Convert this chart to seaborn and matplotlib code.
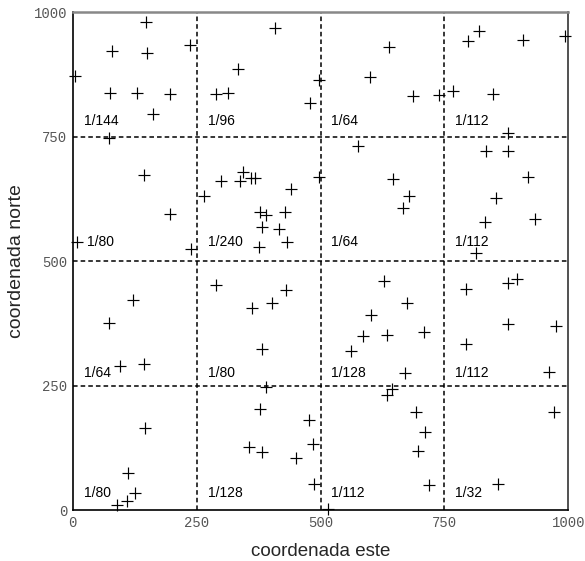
import matplotlib
matplotlib.use("Agg")
import matplotlib.pyplot as plt
import seaborn as sns
import pandas as pd

# -----------------------------
# Data
# -----------------------------
este = [147, 408, 237, 80, 149, 5, 334, 497, 75, 129, 196, 290, 314, 479, 161, 73,
        144, 344, 299, 338, 359, 368, 497, 440, 264, 196, 377, 391, 429, 381, 416,
        9, 433, 375, 238,
        638, 600, 687, 740, 768, 848, 798, 819, 908, 993, 878, 576, 833, 878, 646,
        919, 679, 667, 854, 933, 832, 813,
        289, 430, 121, 361, 402, 73, 381, 96, 143, 389, 377, 145, 477, 484, 356,
        381, 450, 112, 487, 125, 109, 90,
        628, 878, 896, 794, 674, 601, 585, 634, 708, 562, 878, 975, 793, 671, 962,
        644, 634, 693, 972, 710, 697, 718, 859, 516]
norte = [981, 968, 935, 922, 918, 872, 887, 864, 838, 837, 835, 835, 838, 818, 795, 748,
         674, 680, 662, 662, 667, 667, 669, 645, 631, 594, 599, 593, 599, 569, 564,
         538, 538, 529, 525,
         930, 870, 832, 833, 842, 836, 942, 963, 945, 952, 757, 732, 722, 722, 666,
         670, 630, 606, 626, 584, 578, 517,
         453, 442, 422, 406, 415, 376, 323, 289, 293, 248, 203, 164, 181, 132, 126,
         116, 105, 74, 52, 34, 19, 11,
         461, 457, 464, 444, 415, 392, 349, 351, 357, 320, 373, 369, 333, 276, 278,
         243, 232, 196, 196, 157, 119, 50, 52, 2]

# cell densities, rows from top (norte 750-1000) to bottom, columns west to east
cell_labels = [["1/144", "1/96", "1/64", "1/112"],
               ["1/80", "1/240", "1/64", "1/112"],
               ["1/64", "1/80", "1/128", "1/112"],
               ["1/80", "1/128", "1/112", "1/32"]]
cell_size = 250
ticks = [0, 250, 500, 750, 1000]

df = pd.DataFrame({"este": este, "norte": norte})

# -----------------------------
# Plot
# -----------------------------
sns.set_style("white")
plt.rcParams["font.family"] = ["Liberation Sans", "DejaVu Sans"]

fig = plt.figure(figsize=(5.85, 5.61), dpi=100)
ax = fig.add_axes([0.1243, 0.0909, 0.8472, 0.8871])

# quadrat grid
for v in ticks[1:-1]:
    ax.axvline(v, color="black", linestyle=(0, (3, 2)), linewidth=1.1, zorder=1)
    ax.axhline(v, color="black", linestyle=(0, (3, 2)), linewidth=1.1, zorder=1)

sns.scatterplot(data=df, x="este", y="norte", marker="+", color="black",
                s=70, linewidth=0.85, ax=ax, zorder=3)
ax.collections[-1].set_clip_on(False)

# density label in each cell
row_offsets = [32, 38, 26, 34]
for r, row in enumerate(cell_labels):
    bottom = (len(cell_labels) - 1 - r) * cell_size
    for c, lab in enumerate(row):
        dx = 29 if lab == "1/80" and r == 1 else 22
        ax.text(c * cell_size + dx, bottom + row_offsets[r], lab, fontsize=10,
                ha="left", va="center", color="black", zorder=4)

ax.set_xlim(0, 1000)
ax.set_ylim(0, 1000)
ax.set_xticks(ticks)
ax.set_yticks(ticks)
ax.set_xticklabels([str(t) for t in ticks], family="Liberation Mono", fontsize=10, color="#555555")
ax.set_yticklabels([str(t) for t in ticks], family="Liberation Mono", fontsize=10, color="#555555")
ax.tick_params(length=0, pad=4)

ax.set_xlabel("coordenada este", fontsize=13.5, labelpad=10)
ax.set_ylabel("coordenada norte", fontsize=14, labelpad=6)

for side in ["left", "bottom"]:
    ax.spines[side].set_color("black")
    ax.spines[side].set_linewidth(1.2)
ax.spines["top"].set_color("#888888")
ax.spines["top"].set_linewidth(1.8)
ax.spines["right"].set_color("#333333")
ax.spines["right"].set_linewidth(1.2)

fig.savefig("out.png", dpi=100)
plt.close(fig)
